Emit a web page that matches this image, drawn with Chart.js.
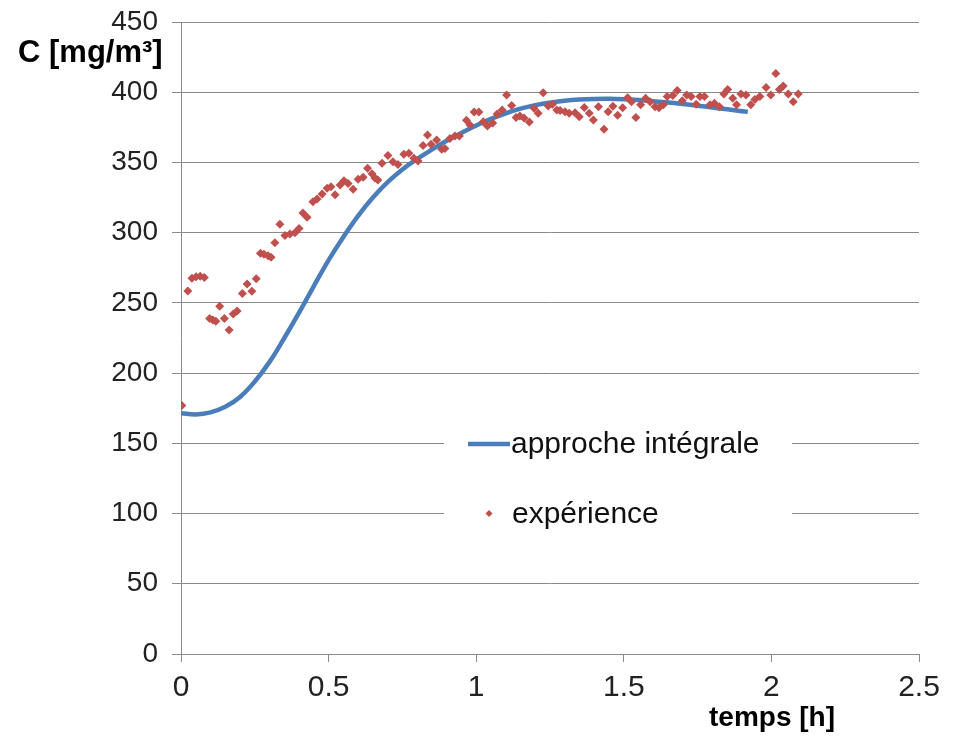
<!DOCTYPE html>
<html>
<head>
<meta charset="utf-8">
<script src="https://cdn.jsdelivr.net/npm/chart.js@4/dist/chart.umd.min.js"></script>
<style>
  html, body { margin: 0; padding: 0; background: #fff; }
  #wrap { width: 953px; height: 740px; }
</style>
</head>
<body>
<div id="wrap"><canvas id="concChart" width="953" height="740"></canvas></div>
<script>
// Measured concentration (experience)
const expTime = [
  0.003, 0.023, 0.037, 0.051, 0.065, 0.079, 0.097, 0.108, 0.118, 0.131,
  0.147, 0.163, 0.177, 0.190, 0.208, 0.224, 0.240, 0.255, 0.269, 0.281,
  0.295, 0.305, 0.318, 0.335, 0.352, 0.369, 0.386, 0.400, 0.413, 0.427,
  0.447, 0.461, 0.478, 0.495, 0.508, 0.522, 0.539, 0.552, 0.566, 0.583,
  0.600, 0.617, 0.632, 0.647, 0.657, 0.667, 0.681, 0.701, 0.718, 0.735,
  0.755, 0.772, 0.789, 0.803, 0.820, 0.835, 0.847, 0.866, 0.883, 0.894,
  0.911, 0.928, 0.943, 0.967, 0.979, 0.993, 1.009, 1.024, 1.038, 1.056,
  1.071, 1.088, 1.103, 1.120, 1.135, 1.148, 1.162, 1.180, 1.196, 1.210,
  1.227, 1.244, 1.258, 1.273, 1.284, 1.301, 1.315, 1.335, 1.349, 1.366,
  1.383, 1.397, 1.414, 1.433, 1.447, 1.463, 1.479, 1.496, 1.513, 1.526,
  1.541, 1.557, 1.574, 1.589, 1.606, 1.619, 1.634, 1.647, 1.666, 1.681,
  1.698, 1.713, 1.728, 1.745, 1.758, 1.773, 1.792, 1.807, 1.824, 1.839,
  1.852, 1.869, 1.882, 1.897, 1.914, 1.930, 1.944, 1.961, 1.982, 1.998,
  2.015, 2.027, 2.040, 2.057, 2.074, 2.091
];
const expConc = [
  177, 258.5, 267.5, 268.7, 269, 268, 238.8, 237.8, 236.9, 247.6,
  238.8, 230.7, 242, 244.2, 256.6, 263.5, 258.3, 267.2, 285.3, 284.6,
  283.6, 282.5, 292.9, 306, 298, 299, 300, 303, 314, 311,
  322, 324, 327.5, 331.6, 332.7, 327, 334, 337, 335, 331,
  338, 339.5, 345.8, 342, 339, 337.5, 349.5, 355, 350.5, 348.5,
  355.8, 356.5, 353, 351, 362, 369.6, 363, 366, 359.4, 360,
  367, 368.8, 368.8, 380, 376.7, 386, 386, 379, 376, 378,
  384.5, 387.3, 398, 390.5, 382, 383, 381.7, 378.8, 388.5, 385,
  399.7, 390.2, 391.4, 387.3, 386.9, 386.1, 385, 385.4, 382.6, 389.2,
  385, 380.2, 389.7, 373.6, 386.1, 390, 383.6, 389, 396, 393.2,
  382, 391, 395.7, 393.2, 389.7, 389, 391, 396.9, 397.6, 401.2,
  394, 398, 396.9, 391.4, 396.9, 396.9, 391, 392.2, 389.7, 398.7,
  402, 395.7, 391, 398.7, 398, 391, 394.8, 396.9, 403.4, 398,
  413.4, 402, 404.4, 398.7, 393.2, 398.7
];

// Model curve (approche intégrale)
const modelTime = [
  0, 0.05, 0.1, 0.15, 0.2, 0.25, 0.3, 0.35, 0.4, 0.45,
  0.5, 0.55, 0.6, 0.65, 0.7, 0.75, 0.8, 0.85, 0.9, 0.95,
  1.0, 1.05, 1.1, 1.15, 1.2, 1.25, 1.3, 1.35, 1.4, 1.45,
  1.5, 1.55, 1.6, 1.65, 1.7, 1.75, 1.8, 1.85, 1.9, 1.92
];
const modelConc = [
  171.5, 170.6, 172, 176, 183, 194, 208, 225, 243, 262,
  280.5, 297, 312, 325, 336, 345, 352.5, 359.2, 365.5, 371,
  376.3, 381, 385, 388.3, 390.8, 392.6, 394, 394.8, 395.2, 395.3,
  395, 394.4, 393.6, 392.7, 391.6, 390.4, 389.1, 387.8, 386.5, 386
];

const seriesNames = ['approche intégrale', 'expérience'];
const xTicks = { min: 0, max: 2.5, step: 0.5 };
const yTicks = { min: 0, max: 450, step: 50 };

const FONT = "'Liberation Sans', Arial, sans-serif";
const BLUE = '#4a7ebb';
const RED = '#c0504d';
const GRID = '#8a8a8a';

// legend box and axis titles drawn on the canvas
const overlay = {
  id: 'overlay',
  afterDatasetsDraw(chart) {
    const ctx = chart.ctx;
    ctx.save();
    ctx.fillStyle = '#fff';
    ctx.fillRect(444, 420, 348, 122);

    ctx.font = '30px ' + FONT;
    ctx.fillStyle = '#111';
    ctx.textBaseline = 'middle';
    ctx.textAlign = 'left';

    ctx.strokeStyle = BLUE;
    ctx.lineWidth = 4.5;
    ctx.beginPath();
    ctx.moveTo(468, 444);
    ctx.lineTo(510, 444);
    ctx.stroke();
    ctx.fillText(seriesNames[0], 511, 445);

    ctx.fillStyle = RED;
    ctx.beginPath();
    ctx.moveTo(489, 510);
    ctx.lineTo(492.5, 513.5);
    ctx.lineTo(489, 517);
    ctx.lineTo(485.5, 513.5);
    ctx.closePath();
    ctx.fill();
    ctx.fillStyle = '#111';
    ctx.fillText(seriesNames[1], 512, 515);
    ctx.restore();
  },
  afterDraw(chart) {
    const ctx = chart.ctx;
    ctx.save();
    ctx.fillStyle = '#000';
    ctx.textBaseline = 'middle';
    ctx.textAlign = 'left';
    ctx.font = 'bold 31px ' + FONT;
    ctx.fillText('C [mg/m³]', 18, 53);
    ctx.font = 'bold 28px ' + FONT;
    ctx.fillText('temps [h]', 709, 718);
    ctx.restore();
  }
};

const ctx = document.getElementById('concChart').getContext('2d');
new Chart(ctx, {
  type: 'scatter',
  data: {
    datasets: [
      {
        label: seriesNames[0],
        type: 'line',
        data: modelTime.map((t, i) => ({ x: t, y: modelConc[i] })),
        borderColor: BLUE,
        borderWidth: 4.5,
        pointRadius: 0,
        fill: false,
        tension: 0.4,
        order: 2
      },
      {
        label: seriesNames[1],
        data: expTime.map((t, i) => ({ x: t, y: expConc[i] })),
        backgroundColor: RED,
        borderColor: RED,
        borderWidth: 0,
        pointStyle: 'rectRot',
        pointRadius: 4.5,
        order: 1
      }
    ]
  },
  options: {
    responsive: false,
    animation: false,
    layout: { padding: { top: 22, right: 34, left: 0, bottom: 0 } },
    plugins: {
      legend: { display: false },
      tooltip: { enabled: false }
    },
    scales: {
      x: {
        type: 'linear',
        min: xTicks.min,
        max: xTicks.max,
        afterFit: s => { s.height = 86; },
        ticks: {
          stepSize: xTicks.step,
          color: '#222',
          font: { family: FONT, size: 30 },
          padding: 8,
          callback: v => String(v)
        },
        grid: { drawOnChartArea: false, color: GRID, tickLength: 8 },
        border: { color: GRID, width: 1 }
      },
      y: {
        min: yTicks.min,
        max: yTicks.max,
        afterFit: s => {
          s.width = 181;
          s.paddingTop = 0;
          s.paddingBottom = 0;
        },
        ticks: {
          stepSize: yTicks.step,
          color: '#222',
          font: { family: FONT, size: 28 },
          padding: 14
        },
        grid: { color: GRID, tickLength: 9 },
        border: { color: GRID, width: 1 }
      }
    }
  },
  plugins: [overlay]
});
</script>
</body>
</html>
